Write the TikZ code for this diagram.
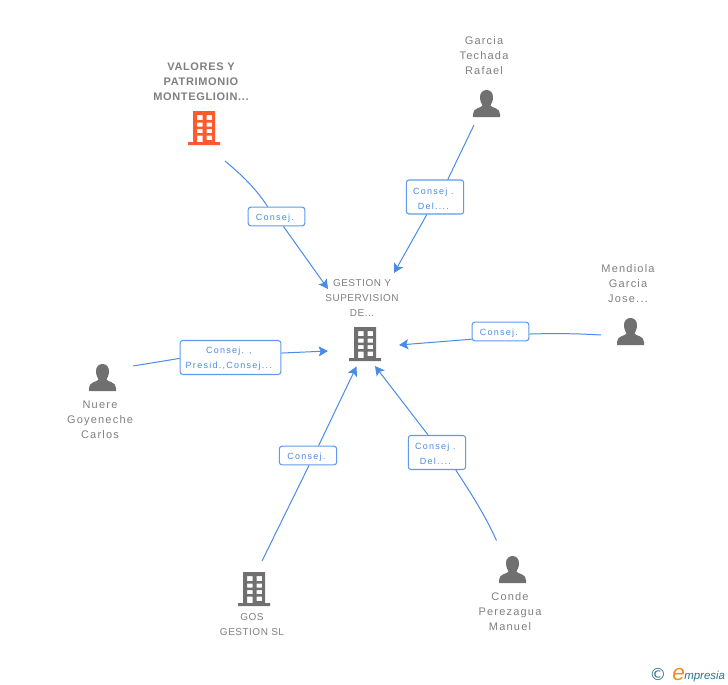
\documentclass[tikz,border=0pt]{standalone}
\usepackage{fontspec}
\setmainfont{Liberation Sans}
\newfontfamily\personfont[LetterSpace=11]{Liberation Sans}
\newfontfamily\firmfont[LetterSpace=5]{Liberation Sans}
\newfontfamily\mainfirmfont[LetterSpace=6]{Liberation Sans Bold}
\newfontfamily\edgefont[LetterSpace=14]{Liberation Sans}
\newfontfamily\symfont{DejaVu Sans}
\usetikzlibrary{arrows.meta}
\definecolor{txtgray}{HTML}{7F7F7F}
\definecolor{icongray}{HTML}{707070}
\definecolor{iconorange}{HTML}{FF5A2B}
\definecolor{linkblue}{HTML}{4A8BE8}
\definecolor{boxblue}{HTML}{5F9AEC}
\definecolor{logoteal}{HTML}{2F7387}
\definecolor{logoorange}{HTML}{F58A1F}
\tikzset{
  x=0.75pt,y=-0.75pt,
  personlabel/.style={text=txtgray,align=center,inner sep=0pt,font=\personfont\fontsize{8.25pt}{11.25pt}\selectfont},
  firmlabel/.style={text=txtgray,align=center,inner sep=0pt,font=\firmfont\fontsize{7.5pt}{11.25pt}\selectfont},
  mainlabel/.style={text=txtgray,align=center,inner sep=0pt,font=\mainfirmfont\fontsize{8.25pt}{11.25pt}\selectfont},
  edgelabel/.style={draw=boxblue,fill=white,rounded corners=2pt,line width=0.8pt,inner sep=0pt,
    text=linkblue,align=center,font=\edgefont\fontsize{6.75pt}{11.25pt}\selectfont},
  link/.style={draw=linkblue,line width=0.75pt},
  linkhead/.style={link,-{Stealth[length=7pt,width=7.5pt,inset=1.5pt]}}
}
\newcommand{\edgetxt}[1]{\raisebox{-1.1pt}[\height][\depth]{#1\kern2.5pt}}
% building icon: #1 = centre x, #2 = top y, #3 = colour
\newcommand{\buildingicon}[3]{%
  \fill[#3,even odd rule,shift={(#1,#2)}]
    (-11,0) rectangle (11,31) (-16,31) rectangle (16,34)
    (-7,4) rectangle (-1.5,9) (2.5,4) rectangle (8,9)
    (-7,11.5) rectangle (-1.5,15.5) (2.5,11.5) rectangle (8,15.5)
    (-7,18) rectangle (-1.5,22) (2.5,18) rectangle (8,22)
    (-7,24.5) rectangle (-1.5,31) (2.5,24.5) rectangle (8,29);
}
% person icon: #1 = centre x, #2 = top y
\newcommand{\personicon}[2]{%
  \fill[icongray,shift={(#1,#2)}]
    (-6.5,7) .. controls (-6.5,2.5) and (-3.5,0) .. (0,0)
    .. controls (3.5,0) and (6.5,2.5) .. (6.5,7)
    .. controls (6.5,11) and (5,13.5) .. (4,15.5)
    .. controls (5,18) and (13.5,17.5) .. (13.5,24)
    -- (13.5,27) -- (-13.5,27) -- (-13.5,24)
    .. controls (-13.5,17.5) and (-5,18) .. (-4,15.5)
    .. controls (-5,13.5) and (-6.5,11) .. (-6.5,7) -- cycle;
}
\begin{document}
\begin{tikzpicture}
\useasboundingbox (0,0) rectangle (728,685);
% icons
\buildingicon{204}{111}{iconorange}
\buildingicon{365}{327}{icongray}
\buildingicon{254}{572}{icongray}
\personicon{486.5}{90}
\personicon{630.5}{318}
\personicon{102.5}{364}
\personicon{512.5}{556}
% labels of the entities
\node[mainlabel] (valores) at (201,82) {VALORES Y\\PATRIMONIO\\MONTEGLIOIN...};
\node[firmlabel] (gestion) at (362,298) {GESTION Y\\SUPERVISION\\DE...};
\node[firmlabel] (gos) at (252,624.5) {GOS\\GESTION SL};
\node[personlabel] (garcia) at (484,56) {Garcia\\Techada\\Rafael};
\node[personlabel] (mendiola) at (628,284) {Mendiola\\Garcia\\Jose...};
\node[personlabel] (nuere) at (100,420) {Nuere\\Goyeneche\\Carlos};
\node[personlabel] (conde) at (510,612) {Conde\\Perezagua\\Manuel};
% relation labels
\node[edgelabel,minimum width=42.5pt,minimum height=14pt] (lvalores) at (276.5,216.5) {\edgetxt{Consej.}};
\node[edgelabel,minimum width=43pt,minimum height=25.5pt] (lgarcia) at (435,197) {\edgetxt{Consej .}\\\edgetxt{Del....}};
\node[edgelabel,minimum width=42.5pt,minimum height=14pt] (lmendiola) at (500.5,331.5) {\edgetxt{Consej.}};
\node[edgelabel,minimum width=75.5pt,minimum height=25.5pt] (lnuere) at (230.5,357.5) {\edgetxt{Consej. ,}\\\edgetxt{Presid.,Consej...}};
\node[edgelabel,minimum width=43pt,minimum height=14pt] (lgos) at (308,455.5) {\edgetxt{Consej.}};
\node[edgelabel,minimum width=43pt,minimum height=25.5pt] (lconde) at (437,452.5) {\edgetxt{Consej .}\\\edgetxt{Del....}};
% connector ends
\coordinate (s1) at (225,161);
\coordinate (e1) at (328,289);
\coordinate (s2) at (474,125);
\coordinate (e2) at (394,273);
\coordinate (s3) at (601,335);
\coordinate (e3) at (399,345);
\coordinate (s4) at (133,366);
\coordinate (e4) at (328,351);
\coordinate (s5) at (262,561);
\coordinate (e5) at (356.5,366.5);
\coordinate (s6) at (496.5,540.5);
\coordinate (e6) at (375,366);
% connectors
\draw[link] (s1) .. controls (243,176) and (257,190) .. (lvalores.132);
\draw[linkhead] (lvalores.-55.6) -- (e1);
\draw[link] (s2) -- (lgarcia.54.8);
\draw[linkhead] (lgarcia.-115.2) -- (e2);
\draw[link] (s3) .. controls (577,333.5) and (553,333.3) .. (lmendiola.-5);
\draw[linkhead] (lmendiola.195.3) -- (e3);
\draw[link] (s4) -- (lnuere.181.7);
\draw[linkhead] (lnuere.5.1) -- (e4);
\draw[link] (s5) -- (lgos.-84);
\draw[linkhead] (lgos.43.5) -- (e5);
\draw[link] (s6) .. controls (484,513) and (470,492) .. (lconde.-43.1);
\draw[linkhead] (lconde.117.2) -- (e6);
% logo
\node[inner sep=0pt,text=logoteal,font=\symfont\fontsize{12.5pt}{14pt}\selectfont] (logoc) at (658,674.5) {©};
\node[inner sep=0pt,anchor=base west,text=logoorange,font=\itshape\fontsize{17pt}{17pt}\selectfont] (logoe) at (672,680) {e};
\node[inner sep=0pt,anchor=base west,text=logoteal,font=\itshape\fontsize{8.6pt}{10pt}\selectfont] (logot) at (684,679) {mpresia};
\end{tikzpicture}
\end{document}
